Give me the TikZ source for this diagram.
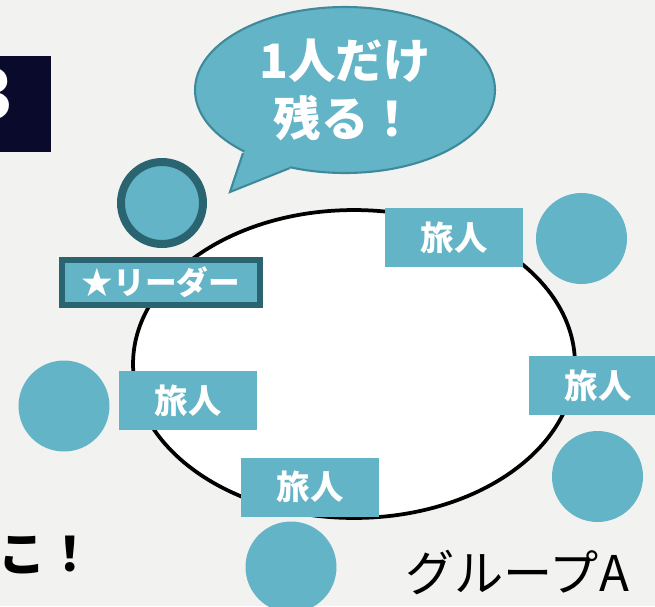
\documentclass[tikz,border=0pt]{standalone}
\usepackage{fontspec}
\newfontfamily\jp{Noto Sans CJK JP}
\usepackage{tikz}
\usetikzlibrary{shapes}
\usetikzlibrary{positioning}
\definecolor{tealc}{RGB}{99,180,199}
\definecolor{tealdark}{RGB}{42,100,112}
\definecolor{bubbleline}{RGB}{63,138,154}
\definecolor{bgc}{RGB}{242,242,241}
\definecolor{navyc}{RGB}{10,10,45}
\tikzset{
    tnode/.style = {circle, fill=tealc, minimum size=1.82cm, inner sep=0pt},
    lnode/.style = {circle, fill=tealc, draw=tealdark, line width=0.16cm, minimum size=1.64cm, inner sep=0pt},
    tlabel/.style = {rectangle, fill=tealc, minimum width=2.76cm, minimum height=1.18cm, inner sep=0pt, align=center, text=white, font=\jp\bfseries\fontsize{19}{19}\selectfont},
    llabel/.style = {rectangle, fill=tealc, draw=tealdark, line width=0.12cm, minimum width=3.96cm, minimum height=0.9cm, inner sep=0pt, text=white, font=\jp\bfseries\fontsize{18}{18}\selectfont},
    bubble/.style = {ellipse, fill=tealc, draw=bubbleline, line width=1.2pt, minimum width=6cm, minimum height=3.32cm, inner sep=0pt, align=center, text=white, font=\jp\bfseries\fontsize{27}{33}\selectfont},
    field/.style = {ellipse, fill=white, draw=black, line width=0.075cm, minimum width=8.84cm, minimum height=6.16cm, inner sep=0pt},
    navybox/.style = {rectangle, fill=navyc, minimum width=1.02cm, minimum height=1.92cm, inner sep=0pt},
    bigtext/.style = {inner sep=0pt, font=\jp\bfseries\fontsize{27}{27}\selectfont},
}

\begin{document}
\begin{tikzpicture}[x=0.02cm,y=-0.02cm]
%
\useasboundingbox (0,0) rectangle (655,606);
\clip (0,0) rectangle (655,606);
\fill[bgc] (0,0) rectangle (655,606);
%
\node[navybox] at (25.5,104) (page) {};
\node[bigtext, text=white, font=\jp\bfseries\fontsize{40}{40}\selectfont, anchor=east] at (14,94) (num) {3};
\node[bigtext, text=black, anchor=east] at (94,555) (tail) {こ！};
%
\node[field] at (354,364) (group) {};
%
\node[bubble] at (345,90) (say) {1人だけ\\残る！};
\coordinate (s1) at (243,153);
\coordinate (s2) at (230,192);
\coordinate (s3) at (290,168);
\fill[tealc] (s1) -- (s2) -- (s3) -- (290,150) -- (250,145) -- cycle;
\draw[bubbleline, line width=1.2pt, line join=miter] (s1) -- (s2) -- (s3);
%
\node[lnode] at (162,203) (leader) {};
\node[llabel] at (161,282.5) (lname) {★リーダー};
%
\node[tlabel] at (454,237.5) (t1) {旅人};
\node[tnode] at (581.5,238.5) (p1) {};
\node[tlabel] at (188,400.5) (t2) {旅人};
\node[tnode] at (64,406) (p2) {};
\node[tlabel] at (598,385.5) (t3) {旅人};
\node[tnode] at (597.5,476.5) (p3) {};
\node[tlabel] at (310,487) (t4) {旅人};
\node[tnode] at (291,567) (p4) {};
%
\node[font=\jp\fontsize{28}{28}\selectfont, inner sep=0pt] at (517,573) (name) {グループA};

\end{tikzpicture}
\end{document}
